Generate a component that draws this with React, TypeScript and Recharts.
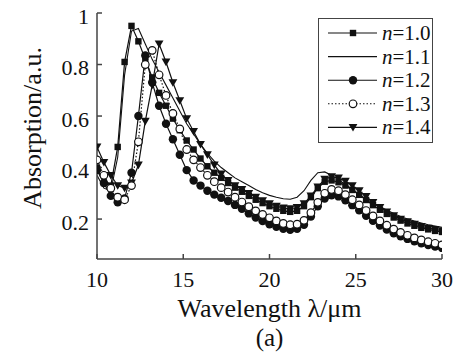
import { LineChart, Line, XAxis, YAxis, Legend, Label } from 'recharts';

const FONT = 'Liberation Serif, serif';
const INK = '#111';
const FRAME = '#444';

// wavelength sample points (µm)
const LAMBDA = [
  10.0, 10.4, 10.8, 11.2, 11.6, 12.0, 12.4, 12.8, 13.2, 13.6,
  14.0, 14.4, 14.8, 15.2, 15.6, 16.0, 16.4, 16.8, 17.2, 17.6,
  18.0, 18.4, 18.8, 19.2, 19.6, 20.0, 20.4, 20.8, 21.2, 21.6,
  22.0, 22.4, 22.8, 23.2, 23.6, 24.0, 24.4, 24.8, 25.2, 25.6,
  26.0, 26.4, 26.8, 27.2, 27.6, 28.0, 28.4, 28.8, 29.2, 29.6, 30.0,
];

const N10 = [
  0.40, 0.34, 0.33, 0.48, 0.81, 0.95, 0.89, 0.82, 0.75, 0.69,
  0.64, 0.59, 0.545, 0.505, 0.47, 0.435, 0.405, 0.38, 0.36, 0.34,
  0.322, 0.306, 0.29, 0.275, 0.262, 0.25, 0.24, 0.232, 0.228, 0.232,
  0.25, 0.285, 0.32, 0.345, 0.35, 0.343, 0.33, 0.313, 0.294, 0.274,
  0.254, 0.236, 0.22, 0.206, 0.194, 0.183, 0.174, 0.166, 0.16, 0.154, 0.15,
];

const N11 = [
  0.37, 0.32, 0.31, 0.44, 0.76, 0.93, 0.94, 0.88, 0.82, 0.77,
  0.72, 0.67, 0.62, 0.57, 0.53, 0.49, 0.455, 0.425, 0.40, 0.38,
  0.36, 0.345, 0.33, 0.315, 0.302, 0.292, 0.285, 0.279, 0.277, 0.285,
  0.31, 0.35, 0.38, 0.383, 0.37, 0.352, 0.335, 0.315, 0.295, 0.277,
  0.262, 0.248, 0.235, 0.222, 0.21, 0.20, 0.192, 0.185, 0.178, 0.173, 0.168,
];

const N12 = [
  0.39, 0.34, 0.29, 0.265, 0.28, 0.38, 0.60, 0.835, 0.73, 0.64,
  0.57, 0.51, 0.45, 0.39, 0.35, 0.33, 0.31, 0.295, 0.283, 0.27,
  0.255, 0.24, 0.222, 0.206, 0.192, 0.18, 0.17, 0.162, 0.158, 0.162,
  0.178, 0.21, 0.25, 0.28, 0.292, 0.288, 0.273, 0.254, 0.234, 0.213,
  0.193, 0.175, 0.159, 0.145, 0.133, 0.123, 0.114, 0.106, 0.099, 0.093, 0.088,
];

const N13 = [
  0.43, 0.37, 0.32, 0.285, 0.275, 0.33, 0.50, 0.80, 0.855, 0.76,
  0.68, 0.61, 0.55, 0.47, 0.43, 0.40, 0.37, 0.345, 0.322, 0.305,
  0.285, 0.266, 0.248, 0.232, 0.218, 0.205, 0.193, 0.183, 0.178, 0.18,
  0.195, 0.225, 0.265, 0.30, 0.315, 0.31, 0.295, 0.275, 0.255, 0.233,
  0.212, 0.193, 0.176, 0.161, 0.148, 0.137, 0.127, 0.119, 0.112, 0.106, 0.10,
];

const N14 = [
  0.48, 0.42, 0.37, 0.33, 0.32, 0.34, 0.41, 0.58, 0.72, 0.88,
  0.81, 0.73, 0.66, 0.59, 0.54, 0.49, 0.45, 0.41, 0.375, 0.35,
  0.33, 0.315, 0.30, 0.285, 0.272, 0.26, 0.25, 0.243, 0.24, 0.245,
  0.26, 0.29, 0.325, 0.355, 0.365, 0.36, 0.347, 0.33, 0.31, 0.288,
  0.265, 0.245, 0.228, 0.213, 0.20, 0.19, 0.18, 0.172, 0.165, 0.16, 0.155,
];

const X_TICKS = [10, 15, 20, 25, 30];
const Y_TICKS = [0.2, 0.4, 0.6, 0.8, 1];

const data = LAMBDA.map((x, i) => ({
  x,
  n10: N10[i],
  n11: N11[i],
  n12: N12[i],
  n13: N13[i],
  n14: N14[i],
}));

type Marker = 'square' | 'none' | 'disc' | 'ring' | 'tri';

const drawMarker = (kind: Marker, cx: number, cy: number, key?: string | number) => {
  if (kind === 'square') return <rect key={key} x={cx - 3.2} y={cy - 3.2} width={6.4} height={6.4} fill={INK} />;
  if (kind === 'disc') return <circle key={key} cx={cx} cy={cy} r={4.2} fill={INK} />;
  if (kind === 'ring') return <circle key={key} cx={cx} cy={cy} r={3.8} fill="#fff" stroke={INK} strokeWidth={1.2} />;
  if (kind === 'tri')
    return <polygon key={key} points={`${cx - 4.4},${cy - 3.4} ${cx + 4.4},${cy - 3.4} ${cx},${cy + 4.2}`} fill={INK} />;
  return null;
};

const dotOf = (kind: Marker) => (props: any) => {
  const { cx, cy, index } = props;
  if (cx == null || cy == null) return <g key={index} />;
  return drawMarker(kind, cx, cy, index);
};

const SERIES = [
  { key: 'n10', name: '1.0', marker: 'square' as Marker, dash: undefined },
  { key: 'n11', name: '1.1', marker: 'none' as Marker, dash: undefined },
  { key: 'n12', name: '1.2', marker: 'disc' as Marker, dash: undefined },
  { key: 'n13', name: '1.3', marker: 'ring' as Marker, dash: '1.5 2' },
  { key: 'n14', name: '1.4', marker: 'tri' as Marker, dash: undefined },
];

// drawing order: open circles over filled ones, thin line last
const DRAW_ORDER = ['n12', 'n10', 'n14', 'n13', 'n11'];

const LegendBox = () => (
  <div
    style={{
      width: 115,
      height: 125,
      boxSizing: 'border-box',
      border: `1.5px solid ${FRAME}`,
      background: '#fff',
    }}
  >
    <svg width={112} height={122}>
      {SERIES.map((s, i) => {
        const y = 14 + i * 23.6;
        return (
          <g key={s.key}>
            <line x1={9} x2={58} y1={y} y2={y} stroke={INK} strokeWidth={1.1} strokeDasharray={s.dash} />
            {drawMarker(s.marker, 34, y)}
            <text x={63} y={y} dominantBaseline="central" fontFamily={FONT} fontSize={21} fill={INK}>
              <tspan fontStyle="italic">n</tspan>={s.name}
            </text>
          </g>
        );
      })}
    </svg>
  </div>
);

const YTitle = ({ viewBox }: any) => {
  const x = viewBox.x + 32;
  const y = viewBox.y + viewBox.height / 2 - 8;
  return (
    <text x={x} y={y} transform={`rotate(-90 ${x} ${y})`} textAnchor="middle" dominantBaseline="central"
      fontFamily={FONT} fontSize={26} fill={INK}>
      Absorption/a.u.
    </text>
  );
};

const XTitle = ({ viewBox }: any) => {
  const x = viewBox.x + viewBox.width / 2;
  return (
    <g>
      <text x={x} y={viewBox.y + 49} textAnchor="middle" dominantBaseline="central" fontFamily={FONT} fontSize={26} fill={INK}>
        Wavelength λ/μm
      </text>
      <text x={x} y={viewBox.y + 78} textAnchor="middle" dominantBaseline="central" fontFamily={FONT} fontSize={25} fill={INK}>
        (a)
      </text>
    </g>
  );
};

const XTick = ({ x, y, payload }: any) => (
  <text x={x} y={y + 11} textAnchor="middle" dominantBaseline="central" fontFamily={FONT} fontSize={22} fill={INK}>
    {payload.value}
  </text>
);

const YTick = ({ x, y, payload }: any) => (
  <text x={x} y={y + 3} textAnchor="end" dominantBaseline="central" fontFamily={FONT} fontSize={22} fill={INK}>
    {payload.value === 1 ? '1' : Number(payload.value).toFixed(1)}
  </text>
);

export default function App() {
  return (
    <div style={{ position: 'absolute', left: 0, top: 0, width: 456, height: 361, background: '#fff' }}>
      <LineChart width={456} height={361} data={data} margin={{ top: 13, right: 14, left: 0, bottom: 72 }}>
        <XAxis
          xAxisId="b"
          dataKey="x"
          type="number"
          domain={[10, 30]}
          ticks={X_TICKS}
          allowDataOverflow
          height={30}
          tickSize={-5}
          tickMargin={14}
          tick={<XTick />}
          stroke={FRAME}
          strokeWidth={1.5}
        >
          <Label content={<XTitle />} />
        </XAxis>
        <XAxis
          xAxisId="t"
          orientation="top"
          dataKey="x"
          type="number"
          domain={[10, 30]}
          ticks={X_TICKS}
          allowDataOverflow
          height={0}
          tickSize={-5}
          tick={false}
          stroke={FRAME}
          strokeWidth={1.5}
        />
        <YAxis
          yAxisId="l"
          domain={[0.045, 1]}
          ticks={Y_TICKS}
          allowDataOverflow
          width={97}
          tickSize={-5}
          tickMargin={13}
          tick={<YTick />}
          stroke={FRAME}
          strokeWidth={1.5}
        >
          <Label content={<YTitle />} />
        </YAxis>
        <YAxis
          yAxisId="r"
          orientation="right"
          domain={[0.045, 1]}
          ticks={Y_TICKS}
          allowDataOverflow
          width={0}
          tickSize={-5}
          tick={false}
          stroke={FRAME}
          strokeWidth={1.5}
        />
        {DRAW_ORDER.map((k) => {
          const s = SERIES.find((d) => d.key === k)!;
          return (
            <Line
              key={s.key}
              xAxisId="b"
              yAxisId="l"
              type="linear"
              dataKey={s.key}
              name={`n=${s.name}`}
              stroke={INK}
              strokeWidth={s.marker === 'none' ? 1.1 : 1.2}
              strokeDasharray={s.dash}
              dot={s.marker === 'none' ? false : dotOf(s.marker)}
              activeDot={false}
              isAnimationActive={false}
            />
          );
        })}
        <Legend
          layout="vertical"
          align="center"
          verticalAlign="middle"
          content={<LegendBox />}
          wrapperStyle={{ position: 'absolute', left: 318, top: 18, width: 115, height: 125 }}
        />
      </LineChart>
    </div>
  );
}
